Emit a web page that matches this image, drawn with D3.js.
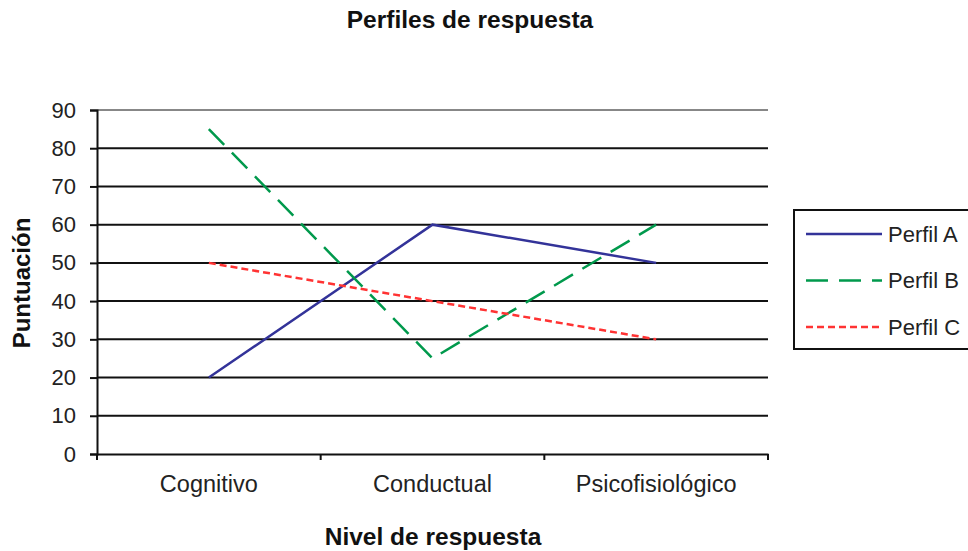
<!DOCTYPE html>
<html>
<head>
<meta charset="utf-8">
<script src="https://cdn.jsdelivr.net/npm/d3@7"></script>
<style>
  body { margin: 0; background: #fff; overflow: hidden; }
  svg { font-family: "Liberation Sans", Arial, sans-serif; }
</style>
</head>
<body>
<div id="chart"></div>
<script>
// data
const categories = ["Cognitivo", "Conductual", "Psicofisiológico"];
const perfilA = [20, 60, 50];
const perfilB = [85, 25, 60];
const perfilC = [50, 40, 30];
const seriesNames = ["Perfil A", "Perfil B", "Perfil C"];
const yTicks = [0, 10, 20, 30, 40, 50, 60, 70, 80, 90];

const width = 968, height = 551;
const margin = { top: 110, right: 200, bottom: 97, left: 97 };
const innerWidth = width - margin.left - margin.right;   // 671
const innerHeight = height - margin.top - margin.bottom; // 344

const series = [
    { name: seriesNames[0], values: perfilA, color: "#333399", dash: null },
    { name: seriesNames[1], values: perfilB, color: "#00994c", dash: "22,11" },
    { name: seriesNames[2], values: perfilC, color: "#ff3333", dash: "7,4" }
];

const svg = d3.select("#chart").append("svg")
    .attr("width", width)
    .attr("height", height);

const g = svg.append("g")
    .attr("transform", `translate(${margin.left},${margin.top})`);

const x = d3.scaleBand()
    .domain(categories)
    .range([0, innerWidth]);

const y = d3.scaleLinear()
    .domain([0, 90])
    .range([innerHeight, 0]);

// gridlines
g.selectAll("line.grid")
    .data(yTicks.filter(d => d > 0))
    .join("line")
    .attr("class", "grid")
    .attr("x1", 0)
    .attr("x2", innerWidth)
    .attr("y1", d => y(d))
    .attr("y2", d => y(d))
    .attr("stroke", "#111")
    .attr("stroke-width", d => d === 90 ? 1 : 2);

// Y axis
const yAxis = g.append("g")
    .call(d3.axisLeft(y).tickValues(yTicks).tickSize(7).tickPadding(14));
yAxis.select(".domain").attr("stroke", "#111").attr("stroke-width", 2);
yAxis.selectAll(".tick line").attr("stroke", "#111").attr("stroke-width", 2);
yAxis.selectAll("text")
    .attr("font-family", null)
    .style("font-size", "22px")
    .attr("fill", "#222");

// X axis
const xAxis = g.append("g")
    .attr("transform", `translate(0,${innerHeight})`)
    .call(d3.axisBottom(x).tickSize(0));
xAxis.select(".domain").attr("stroke", "#111").attr("stroke-width", 2);
xAxis.selectAll("text")
    .attr("font-family", null)
    .attr("y", 38)
    .attr("dy", null)
    .style("font-size", "23.5px")
    .attr("fill", "#222");

// x tick marks at band boundaries
const bounds = categories.map(c => x(c)).concat([x(categories[categories.length - 1]) + x.bandwidth()]);
g.selectAll("line.xtick")
    .data(bounds)
    .join("line")
    .attr("class", "xtick")
    .attr("x1", d => d)
    .attr("x2", d => d)
    .attr("y1", innerHeight)
    .attr("y2", innerHeight + 6)
    .attr("stroke", "#111")
    .attr("stroke-width", 2);

// lines
const line = d3.line()
    .x((d, i) => x(categories[i]) + x.bandwidth() / 2)
    .y(d => y(d));

g.selectAll("path.serie")
    .data(series)
    .join("path")
    .attr("class", "serie")
    .attr("d", d => line(d.values))
    .attr("fill", "none")
    .attr("stroke", d => d.color)
    .attr("stroke-width", 2.5)
    .attr("stroke-dasharray", d => d.dash);

// title
svg.append("text")
    .attr("x", 470)
    .attr("y", 28)
    .attr("text-anchor", "middle")
    .style("font-size", "24.5px")
    .style("font-weight", "bold")
    .attr("fill", "#111")
    .text("Perfiles de respuesta");

// axis titles
svg.append("text")
    .attr("x", 433)
    .attr("y", 545)
    .attr("text-anchor", "middle")
    .style("font-size", "24.5px")
    .style("font-weight", "bold")
    .attr("fill", "#111")
    .text("Nivel de respuesta");

svg.append("text")
    .attr("transform", "translate(30,283) rotate(-90)")
    .attr("text-anchor", "middle")
    .style("font-size", "24px")
    .style("font-weight", "bold")
    .attr("fill", "#111")
    .text("Puntuación");

// legend
const legend = svg.append("g").attr("transform", "translate(794,210)");
legend.append("rect")
    .attr("x", 0)
    .attr("y", 0)
    .attr("width", 190)
    .attr("height", 139)
    .attr("fill", "#fff")
    .attr("stroke", "#111")
    .attr("stroke-width", 2);

const items = legend.selectAll("g.item")
    .data(series)
    .join("g")
    .attr("class", "item")
    .attr("transform", (d, i) => `translate(0,${24 + i * 46.5})`);

items.append("line")
    .attr("x1", 12)
    .attr("x2", 88)
    .attr("y1", 0)
    .attr("y2", 0)
    .attr("stroke", d => d.color)
    .attr("stroke-width", 2.5)
    .attr("stroke-dasharray", d => d.dash);

items.append("text")
    .attr("x", 94)
    .attr("y", 0)
    .attr("dy", "0.36em")
    .style("font-size", "22px")
    .attr("fill", "#222")
    .text(d => d.name);
</script>
</body>
</html>
